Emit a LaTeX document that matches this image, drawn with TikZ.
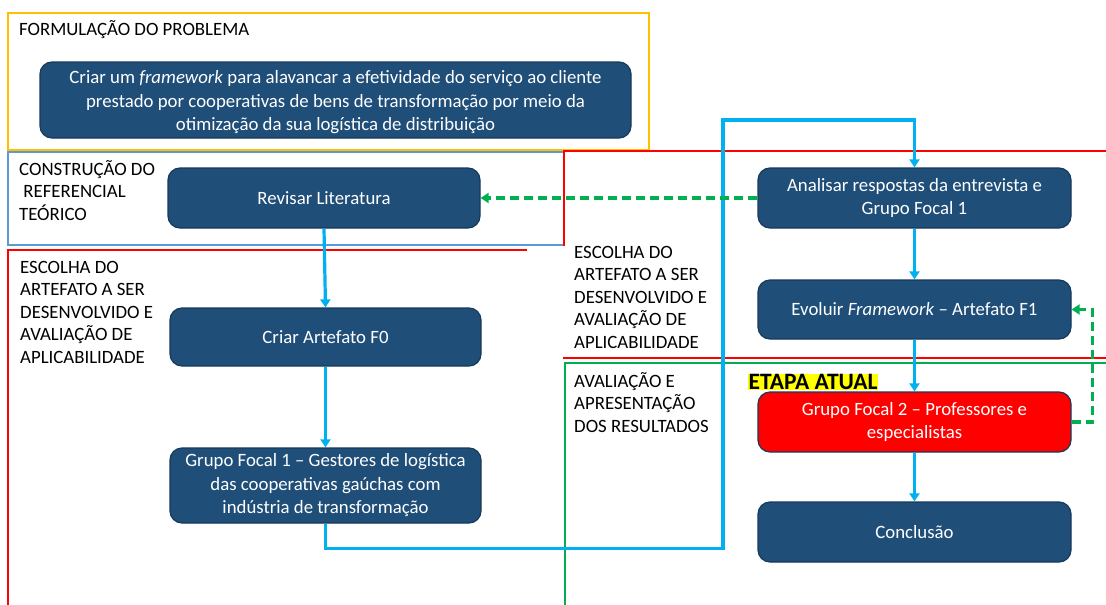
\documentclass[tikz,border=0pt]{standalone}
\usepackage{fontspec}
\setmainfont{Carlito}
\usetikzlibrary{arrows.meta}
\definecolor{boxblue}{HTML}{1F4E79}
\definecolor{boxedge}{HTML}{173A5A}
\definecolor{flowcyan}{HTML}{00B0F0}
\definecolor{fbgreen}{HTML}{00B050}
\definecolor{frameorange}{HTML}{FFC000}
\definecolor{frameblue}{HTML}{5B9BD5}
\definecolor{framered}{HTML}{FF0000}
\definecolor{framegreen}{HTML}{00B050}
\definecolor{hiyellow}{HTML}{FFFF00}
\begin{document}
\begin{tikzpicture}[x=1pt,y=-1pt,
  stepbox/.style={draw=boxedge, line width=1.2pt, fill=boxblue, rounded corners=12pt, text=white,
    align=center, inner sep=0pt, font=\fontsize{18.8}{23.5}\selectfont},
  framelabel/.style={anchor=north west, align=left, inner sep=0pt, text=black,
    font=\fontsize{18.8}{22.5}\selectfont},
  flow/.style={draw=flowcyan, line width=3.2pt, -{Triangle[length=8pt,width=10pt]}},
  fb/.style={draw=fbgreen, line width=3.2pt, dash pattern=on 9pt off 5pt, -{Triangle[length=8pt,width=10pt]}}
]
\clip (0,0) rectangle (1106,605);
\fill[white] (0,0) rectangle (1106,605);

% frames
\draw[frameorange, line width=1.4pt] (8,13) rectangle (649,150);
\draw[frameblue, line width=1.4pt] (8,152) rectangle (564,245);
\draw[framered, line width=1.4pt] (600,250) -- (8,250) -- (8,620);
\draw[framered, line width=1.4pt] (1120,151) -- (564,151) -- (564,358) -- (1120,358);
\draw[framegreen, line width=1.4pt] (1120,363) -- (565,363) -- (565,620);

% white backing of the right label
\fill[white] (527,246) rectangle (712,357);

% frame labels
\node[framelabel] (lform) at (19,20) {FORMULAÇÃO DO PROBLEMA};
\node[framelabel] (lcons) at (19,160) {CONSTRUÇÃO DO\\\ REFERENCIAL\\TEÓRICO};
\node[framelabel] (lesc1) at (20,261) {ESCOLHA DO\\ARTEFATO A SER\\DESENVOLVIDO E\\AVALIAÇÃO DE\\APLICABILIDADE};
\node[framelabel] (lesc2) at (574,246) {ESCOLHA DO\\ARTEFATO A SER\\DESENVOLVIDO E\\AVALIAÇÃO DE\\APLICABILIDADE};
\node[framelabel] (laval) at (574,372) {AVALIAÇÃO E\\APRESENTAÇÃO\\DOS RESULTADOS};

% nodes
\node[stepbox, minimum width=591pt, minimum height=76pt] (prob) at (335.5,100)
  {\raisebox{0pt}[18pt][0pt]{}Criar um \textit{framework} para alavancar a efetividade do serviço ao cliente\\prestado por cooperativas de bens de transformação por meio da\\otimização da sua logística de distribuição};
\node[stepbox, minimum width=312pt, minimum height=60pt] (rev) at (324,198) {Revisar Literatura};
\node[stepbox, minimum width=311pt, minimum height=58pt] (criar) at (325.5,337) {Criar Artefato F0};
\node[stepbox, minimum width=311pt, minimum height=75pt] (gf1) at (325.5,485.5)
  {Grupo Focal 1 -- Gestores de logística\\das cooperativas gaúchas com\\indústria de transformação};
\node[stepbox, minimum width=313pt, minimum height=60pt] (an) at (914.5,198)
  {Analisar respostas da entrevista e\\Grupo Focal 1};
\node[stepbox, minimum width=313pt, minimum height=59pt] (ev) at (914.5,309.5)
  {Evoluir \textit{Framework} -- Artefato F1};
\node[stepbox, fill=framered, minimum width=313pt, minimum height=60pt] (gf2) at (914.5,422)
  {Grupo Focal 2 -- Professores e\\especialistas};
\node[stepbox, minimum width=313pt, minimum height=60pt] (conc) at (914.5,532) {Conclusão};

\node[anchor=west, fill=hiyellow, inner xsep=0.5pt, inner ysep=0pt, font=\fontsize{23.5}{24}\selectfont\bfseries] (etapa) at (748,382) {ETAPA ATUAL};

% connectors
\coordinate (loop) at (723,120);
\draw[flow] (rev.south) -- (criar.north);
\draw[flow] (criar.south) -- (gf1.north);
\draw[flow] (gf1.south) -- ++(0,25) -| (loop) -| (an.north);
\draw[flow] (an.south) -- (ev.north);
\draw[flow] (ev.south) -- (gf2.north);
\draw[flow] (gf2.south) -- (conc.north);
\draw[fb] (an.west) -- (rev.east);
\draw[fb] (gf2.east) -- ++(21,0) |- (ev.east);
\end{tikzpicture}
\end{document}
